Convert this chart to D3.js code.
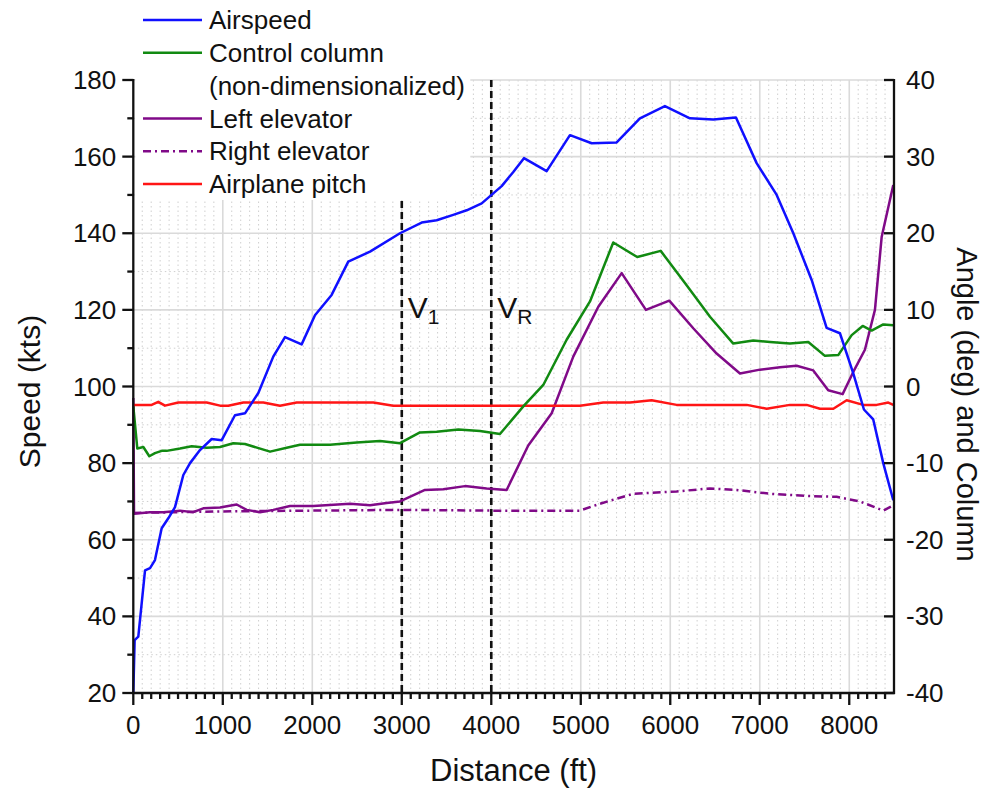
<!DOCTYPE html>
<html><head><meta charset="utf-8">
<script src="https://cdn.jsdelivr.net/npm/d3@7"></script>
<style>body{margin:0;background:#fff}svg{display:block}text{font-family:Arial,"Liberation Sans",sans-serif;fill:#111}</style>
</head><body><svg id="c" width="988" height="791"></svg>
<script>
// ---- data ----
const xTicks = [0,1000,2000,3000,4000,5000,6000,7000,8000];
const speedTicks = [20,40,60,80,100,120,140,160,180];
const angleTicks = [-40,-30,-20,-10,0,10,20,30,40];

const airspeedDist = [0,15,56,131,187,242,317,391,466,559,634,745,876,988,1136,1248,1397,1564,1695,1881,2030,2216,2402,2645,2980,3222,3390,3575,3725,3893,4116,4246,4365,4619,4879,5122,5401,5661,5940,6220,6481,6734,6965,7189,7375,7580,7747,7896,8045,8164,8268,8380,8492];
const airspeedKts = [20,33.8,34.7,52,52.6,54.7,63,65.6,68.5,76.9,80,83.4,86.3,86,92.5,93,98.3,107.8,112.9,111,118.6,123.9,132.6,135.2,140,142.8,143.4,144.8,146,147.8,152.3,156,159.6,156.2,165.6,163.5,163.7,170,173.2,170,169.7,170.2,158.3,150,140,127.8,115.3,113.9,103.4,94,91.4,80,70.3];

const columnDist = [0,45,112,179,242,317,373,522,653,820,969,1117,1248,1528,1714,1863,2198,2496,2756,2980,3203,3390,3632,3874,4097,4358,4581,4842,5103,5363,5631,5893,6164,6444,6704,6927,7114,7337,7542,7728,7877,8027,8150,8250,8380,8492];
const columnVal = [-2.6,-8.1,-7.9,-9.1,-8.7,-8.4,-8.4,-8.1,-7.8,-8.0,-7.9,-7.4,-7.5,-8.5,-8.0,-7.6,-7.6,-7.3,-7.1,-7.4,-6.0,-5.9,-5.6,-5.8,-6.2,-2.6,0.2,6.1,11.1,18.8,16.9,17.7,13.5,9.1,5.6,6.0,5.8,5.6,5.8,4.0,4.1,6.7,7.9,7.3,8.1,8.0];

const leftElevDist = [0,8,186,335,522,670,782,969,1061,1155,1267,1416,1564,1751,2011,2422,2645,2831,2980,3259,3464,3706,3948,4172,4413,4675,4916,5196,5457,5728,5989,6257,6518,6779,7002,7226,7412,7598,7765,7926,8045,8175,8287,8362,8492];
const leftElevVal = [-1.5,-16.6,-16.4,-16.4,-16.2,-16.4,-15.9,-15.8,-15.6,-15.4,-16.1,-16.4,-16.1,-15.6,-15.6,-15.3,-15.5,-15.2,-15.0,-13.5,-13.4,-13.0,-13.3,-13.5,-7.7,-3.5,3.9,10.4,14.8,10.0,11.2,7.6,4.3,1.7,2.2,2.5,2.7,2.1,-0.5,-1.0,1.9,4.8,10.0,19.5,26.3];

const rightElevDist = [0,500,1000,2000,3000,4000,4991,5214,5587,6071,6444,6742,7114,7561,7859,8120,8380,8492];
const rightElevVal = [-16.5,-16.4,-16.3,-16.2,-16.1,-16.2,-16.2,-15.3,-14.0,-13.7,-13.3,-13.5,-14.0,-14.3,-14.4,-15.0,-16.2,-15.5];

const pitchDist = [0,205,279,354,503,820,969,1061,1229,1453,1639,1826,2682,2905,3203,4991,5251,5550,5792,6071,6854,7077,7337,7524,7673,7822,7971,8156,8306,8436,8492];
const pitchVal = [-2.4,-2.4,-2.0,-2.5,-2.1,-2.1,-2.5,-2.5,-2.1,-2.1,-2.5,-2.1,-2.1,-2.5,-2.5,-2.5,-2.1,-2.1,-1.8,-2.4,-2.4,-2.9,-2.4,-2.4,-2.9,-2.9,-1.8,-2.4,-2.4,-2.1,-2.4];

const markers = [{d:3000,label:"V",sub:"1"},{d:4000,label:"V",sub:"R"}];
const legendItems = [
  {name:"Airspeed", color:"#1010ff", dash:null},
  {name:"Control column", color:"#118a11", dash:null},
  {name:"(non-dimensionalized)", color:null, dash:null},
  {name:"Left elevator", color:"#800a88", dash:null},
  {name:"Right elevator", color:"#800a88", dash:"8,4,2,4"},
  {name:"Airplane pitch", color:"#ff1515", dash:null}
];

// ---- layout ----
const M = {left:133.3, right:894, top:80, bottom:693};
const svg = d3.select("#c");
const x = d3.scaleLinear().domain([0,8500]).range([M.left,M.right]);
const yS = d3.scaleLinear().domain([20,180]).range([M.bottom,M.top]);
const yA = d3.scaleLinear().domain([-40,40]).range([M.bottom,M.top]);

// grid
const g = svg.append("g");
const minorX = d3.range(100,8500,100).filter(v=>v%1000!==0);
g.selectAll(".mx").data(minorX).join("line")
  .attr("x1",d=>x(d)).attr("x2",d=>x(d)).attr("y1",M.top).attr("y2",M.bottom)
  .attr("stroke","#cfcfcf").attr("stroke-width",1).attr("stroke-dasharray","1.5,3");
const minorY = d3.range(30,180,20);
g.selectAll(".my").data(minorY).join("line")
  .attr("x1",M.left).attr("x2",M.right).attr("y1",d=>yS(d)).attr("y2",d=>yS(d))
  .attr("stroke","#cfcfcf").attr("stroke-width",1).attr("stroke-dasharray","1.5,3");
g.selectAll(".Mx").data(xTicks.slice(1)).join("line")
  .attr("x1",d=>x(d)).attr("x2",d=>x(d)).attr("y1",M.top).attr("y2",M.bottom)
  .attr("stroke","#dadada").attr("stroke-width",1.6);
g.selectAll(".My").data(speedTicks.slice(1)).join("line")
  .attr("x1",M.left).attr("x2",M.right).attr("y1",d=>yS(d)).attr("y2",d=>yS(d))
  .attr("stroke","#dadada").attr("stroke-width",1.6);

// marker lines
svg.selectAll(".vm").data(markers).join("line")
  .attr("x1",d=>x(d.d)).attr("x2",d=>x(d.d)).attr("y1",M.top).attr("y2",M.bottom)
  .attr("stroke","#111").attr("stroke-width",2.6).attr("stroke-dasharray","7,4");

// legend background
svg.append("rect").attr("x",M.left+2).attr("y",0).attr("width",335).attr("height",200).attr("fill","#fff");

// marker labels
markers.forEach((m,i)=>{
  const t = svg.append("text").attr("x",x(m.d)+6).attr("y",yS(118)).attr("font-size",30);
  t.append("tspan").text(m.label);
  t.append("tspan").attr("font-size",21).attr("dy",6).text(m.sub);
});

// series
const lineS = d3.line().x(d=>x(d[0])).y(d=>yS(d[1]));
const lineA = d3.line().x(d=>x(d[0])).y(d=>yA(d[1]));
function draw(gen, xs, ys, color, dash){
  svg.append("path").datum(xs.map((v,i)=>[v,ys[i]])).attr("d",gen)
    .attr("fill","none").attr("stroke",color).attr("stroke-width",2.5)
    .attr("stroke-linejoin","round").attr("stroke-dasharray",dash);
}
draw(lineA, rightElevDist, rightElevVal, legendItems[4].color, legendItems[4].dash);
draw(lineA, leftElevDist, leftElevVal, legendItems[3].color, null);
draw(lineA, pitchDist, pitchVal, legendItems[5].color, null);
draw(lineA, columnDist, columnVal, legendItems[1].color, null);
draw(lineS, airspeedDist, airspeedKts, legendItems[0].color, null);

// axes
const ax = svg.append("g").attr("stroke","#111").attr("stroke-width",2.3);
ax.append("line").attr("x1",M.left).attr("x2",M.left).attr("y1",M.top-1).attr("y2",M.bottom+1);
ax.append("line").attr("x1",M.right).attr("x2",M.right).attr("y1",M.top-1).attr("y2",M.bottom+1);
ax.append("line").attr("x1",M.left-1).attr("x2",M.right+1).attr("y1",M.bottom).attr("y2",M.bottom);
ax.selectAll(".lt").data(speedTicks).join("line")
  .attr("x1",M.left-11).attr("x2",M.left).attr("y1",d=>yS(d)).attr("y2",d=>yS(d));
ax.selectAll(".ltm").data(d3.range(30,180,20)).join("line")
  .attr("x1",M.left-6).attr("x2",M.left).attr("y1",d=>yS(d)).attr("y2",d=>yS(d));
ax.selectAll(".bt").data(xTicks).join("line")
  .attr("x1",d=>x(d)).attr("x2",d=>x(d)).attr("y1",M.bottom).attr("y2",M.bottom+12);
ax.selectAll(".btm").data(minorX).join("line")
  .attr("x1",d=>x(d)).attr("x2",d=>x(d)).attr("y1",M.bottom).attr("y2",M.bottom+6);
ax.selectAll(".rt").data(angleTicks).join("line")
  .attr("x1",M.right-10).attr("x2",M.right).attr("y1",d=>yA(d)).attr("y2",d=>yA(d));

// tick labels
svg.selectAll(".ll").data(speedTicks).join("text")
  .attr("x",M.left-17).attr("y",d=>yS(d)).attr("dy","0.35em").attr("text-anchor","end")
  .attr("font-size",26).text(d=>d);
svg.selectAll(".bl").data(xTicks).join("text")
  .attr("x",d=>x(d)).attr("y",M.bottom+41).attr("text-anchor","middle")
  .attr("font-size",26).text(d=>d);
svg.selectAll(".rl").data(angleTicks).join("text")
  .attr("x",M.right+12).attr("y",d=>yA(d)).attr("dy","0.35em").attr("text-anchor","start")
  .attr("font-size",26).text(d=>d);

// axis titles
svg.append("text").attr("transform",`translate(40,${(M.top+M.bottom)/2+5}) rotate(-90)`)
  .attr("text-anchor","middle").attr("font-size",30).text("Speed (kts)");
svg.append("text").attr("transform",`translate(957,${(M.top+M.bottom)/2+18}) rotate(90)`)
  .attr("text-anchor","middle").attr("font-size",29).text("Angle (deg) and Column");
svg.append("text").attr("x",(M.left+M.right)/2).attr("y",781)
  .attr("text-anchor","middle").attr("font-size",31).text("Distance (ft)");

// legend
const lg = svg.append("g");
legendItems.forEach((it,i)=>{
  const yy = 20 + i*32.8;
  if(it.color){
    lg.append("line").attr("x1",143).attr("x2",202).attr("y1",yy).attr("y2",yy)
      .attr("stroke",it.color).attr("stroke-width",2.5).attr("stroke-dasharray",it.dash);
  }
  lg.append("text").attr("x",209).attr("y",yy).attr("dy","0.35em").attr("font-size",26).text(it.name);
});
</script></body></html>
